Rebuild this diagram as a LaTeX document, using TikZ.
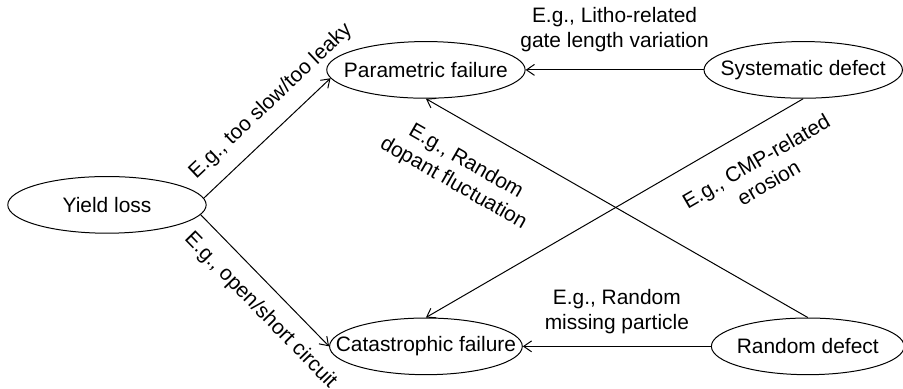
\documentclass[tikz,border=0pt]{standalone}
\usepackage{fontspec}
\setmainfont{Liberation Sans}
\usetikzlibrary{arrows.meta,shapes.geometric}
\tikzset{
  yl arrow/.style={-{Straight Barb[length=4pt,width=5.5pt]},line width=0.5pt,black},
  yl state/.style={draw=black,line width=0.5pt,ellipse,inner sep=0pt,
    minimum width=3.5cm,minimum height=1cm},
  yl note/.style={inner sep=0pt,align=center}
}

\begin{document}
\begin{tikzpicture}[font=\fontsize{10.5}{12.5}\selectfont]
  \useasboundingbox (0,0) rectangle (15.93,6.86);

  % Causes and failure classes.
  \node[yl state,label=center:{Yield loss}] (yield) at (1.887,3.246) {};
  \node[yl state,label=center:{Parametric failure}] (par) at (7.514,5.627) {};
  \node[yl state,label=center:{Systematic defect}] (sys) at (14.17,5.627) {};
  \node[yl state,minimum width=3.4cm,label=center:{Catastrophic failure}] (cat) at (7.514,0.750) {};
  \node[yl state,minimum width=3.4cm,label=center:{Random defect}] (rand) at (14.25,0.750) {};

  % Yield loss splits in two.
  \draw[yl arrow] (yield.4) --
    node[yl note,sloped,above=7pt,pos=0.66] {E.g., too slow/too leaky} (par.185);
  \draw[yl arrow] (yield.-6) --
    node[yl note,sloped,below=7pt,pos=0.6] {E.g., open/short circuit} (cat.west);

  % Defects feeding each failure class.
  \draw[yl arrow] (sys.west) --
    node[yl note,above=9pt] {E.g., Litho-related\\gate length variation} (par.east);
  \draw[yl arrow] (sys.south) --
    node[yl note,sloped,below=11pt,pos=0.165] {E.g., CMP-related\\erosion} (cat.north);
  \draw[yl arrow] (rand.north) --
    node[yl note,sloped,below=12.5pt,pos=0.85] {E.g., Random\\dopant fluctuation} (par.south);
  \draw[yl arrow] (rand.west) --
    node[yl note,above=6pt] {E.g., Random\\missing particle} (cat.east);
\end{tikzpicture}
\end{document}
